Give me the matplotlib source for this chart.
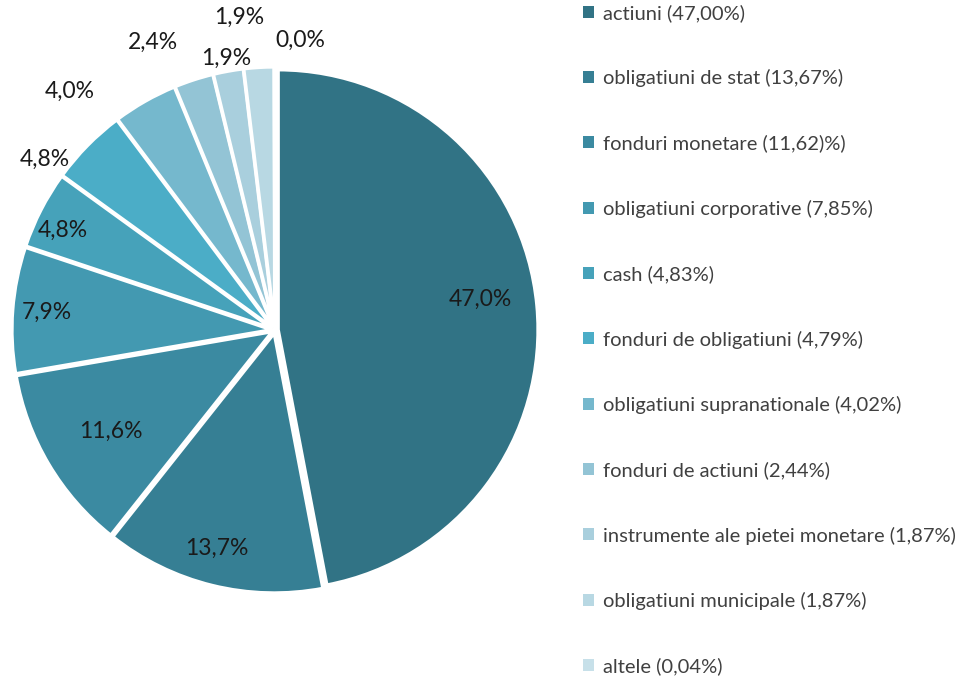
import numpy as np
import matplotlib.pyplot as plt
from matplotlib.patches import Patch

categories = ["actiuni (47,00%)", "obligatiuni de stat (13,67%)",
              "fonduri monetare (11,62)%)", "obligatiuni corporative (7,85%)",
              "cash (4,83%)", "fonduri de obligatiuni (4,79%)",
              "obligatiuni supranationale (4,02%)", "fonduri de actiuni (2,44%)",
              "instrumente ale pietei monetare (1,87%)",
              "obligatiuni municipale (1,87%)", "altele (0,04%)"]
values = [47.00, 13.67, 11.62, 7.85, 4.83, 4.79, 4.02, 2.44, 1.87, 1.87, 0.04]
pie_labels = ["47,0%", "13,7%", "11,6%", "7,9%", "4,8%", "4,8%",
              "4,0%", "2,4%", "1,9%", "1,9%", "0,0%"]
colors = ["#317385", "#367f94", "#3b8aa1", "#4399b1", "#46a2ba", "#4badc7",
          "#75b8cd", "#93c4d5", "#a9cfdd", "#b8d8e3", "#c7e0e9"]

# label placement: (distance in radii, angle nudge in degrees)
label_pos = [(0.80, 3), (0.87, -1), (0.74, 1), (0.88, 0), (0.90, 2),
             (1.10, 8), (1.21, 11), (1.20, 5), (1.06, 0), (1.21, 3), (1.12, -5)]

plt.rcParams['font.family'] = ['Lato', 'DejaVu Sans']

fig = plt.figure(figsize=(9.65, 6.78), dpi=100)
R = 260.0
ax = fig.add_axes([0, 0, 560 / 965, 1])
wedges, _ = ax.pie(values, colors=colors, startangle=90, counterclock=False,
                   explode=[0.012] * len(values),
                   wedgeprops=dict(edgecolor="white", linewidth=2.5))
ax.set_xlim(-275 / R, 285 / R)
ax.set_ylim(-348 / R, 330 / R)
ax.set_aspect('equal')
ax.axis('off')

for w, lab, (d, nudge) in zip(wedges, pie_labels, label_pos):
    ang = np.deg2rad((w.theta1 + w.theta2) / 2 + nudge)
    ax.text(d * np.cos(ang), d * np.sin(ang), lab, ha='center', va='center',
            fontsize=16.5, color="#1a1a1a")

handles = [Patch(facecolor=c, edgecolor='none') for c in colors]
fig.legend(handles, categories, loc='upper left', bbox_to_anchor=(575 / 965, 1.006),
           frameon=False, fontsize=14.5, labelcolor="#404040",
           handlelength=0.55, handleheight=0.55, handletextpad=0.45,
           labelspacing=2.35, borderaxespad=0)

fig.savefig("out.png", dpi=100)
